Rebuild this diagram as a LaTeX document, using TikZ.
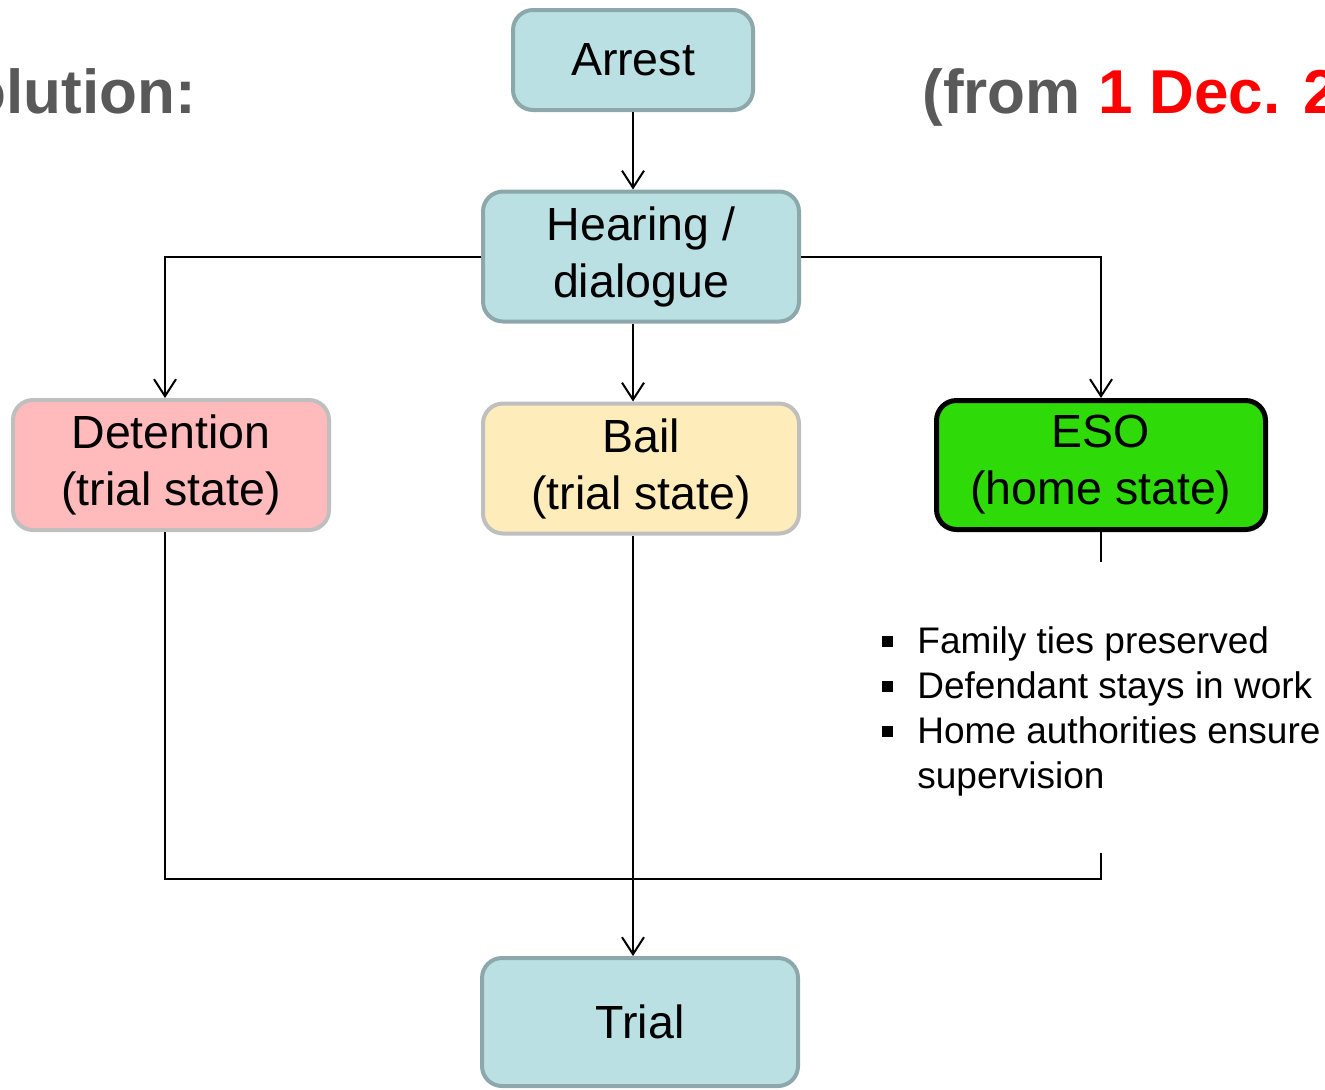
\documentclass[tikz,border=0pt]{standalone}
\usepackage{fontspec}
\setmainfont{Liberation Sans}
\usetikzlibrary{arrows.meta}

\definecolor{boxblue}{HTML}{BBE0E3}
\definecolor{blueline}{HTML}{8DA8AB}
\definecolor{boxpink}{HTML}{FFBBBB}
\definecolor{boxyellow}{HTML}{FFECBB}
\definecolor{boxgreen}{HTML}{2EDB08}
\definecolor{greyline}{HTML}{BFBFBF}
\definecolor{titlegrey}{HTML}{595959}

\newcommand{\bsq}{\rule[3pt]{5.5pt}{5.5pt}\hspace{12pt}}

\begin{document}
\begin{tikzpicture}[x=0.5pt, y=-0.5pt,
    box/.style={rectangle, rounded corners=10pt, line width=2pt, align=center,
        inner sep=0pt, minimum width=158pt, minimum height=65pt,
        font=\fontsize{23.25}{28.5}\selectfont},
    bluebox/.style={box, draw=blueline, fill=boxblue},
    greybox/.style={box, draw=greyline},
    link/.style={line width=1pt, black},
    arr/.style={link, -{Straight Barb[length=8.5pt, width=11pt]}},
    title/.style={font=\fontsize{31}{37}\selectfont\bfseries, text=titlegrey, inner sep=0pt}
]
    \useasboundingbox (0,0) rectangle (1325,1089);
    \clip (0,0) rectangle (1325,1089);
    % titles, cut at the frame
    \node[title, anchor=base east] (soltitle) at (196,113) {Solution:};
    \node[title, anchor=base west] (fromtitle) at (922,113) {(from \textcolor{red}{1 Dec. 2012})};
    % boxes
    \node[bluebox, minimum width=120pt, minimum height=50pt] (arrest) at (633,60) {Arrest};
    \node[bluebox] (hearing) at (641,256.5) {Hearing /\\dialogue};
    \node[greybox, fill=boxpink] (det) at (171,465) {Detention\\(trial state)};
    \node[greybox, fill=boxyellow] (bail) at (641,468.5) {Bail\\(trial state)};
    \node[box, draw=black, line width=2.5pt, fill=boxgreen, minimum width=164.5pt,
        minimum height=64.5pt] (eso) at (1101,465) {ESO\\(home state)};
    \node[bluebox, minimum height=64pt] (trial) at (640,1022) {Trial};
    \node[anchor=north west, align=left, inner sep=0pt,
        font=\fontsize{18.5}{22.5}\selectfont] (benefits) at (882,626)
        {\bsq Family ties preserved\\
         \bsq Defendant stays in work\\
         \bsq Home authorities ensure\\
         \hspace*{17.5pt}supervision};
    \coordinate (esoStub) at (1101,562);
    \coordinate (esoJoin) at (1101,853);
    \coordinate (merge) at (1101,879);
    % connectors
    \draw[arr] (arrest.south) -- (hearing.north -| arrest.south);
    \draw[arr] (hearing.west) -| ([xshift=-3pt]det.north);
    \draw[arr] (hearing.east) -| (eso.north);
    \draw[arr] (hearing.south -| arrest.south) -- (bail.north -| arrest.south);
    \draw[link] (eso.south) -- (esoStub);
    \draw[link] ([xshift=-3pt]det.south) |- (merge) -- (esoJoin);
    \draw[arr] (bail.south -| arrest.south) -- (trial.north -| arrest.south);
\end{tikzpicture}
\end{document}
